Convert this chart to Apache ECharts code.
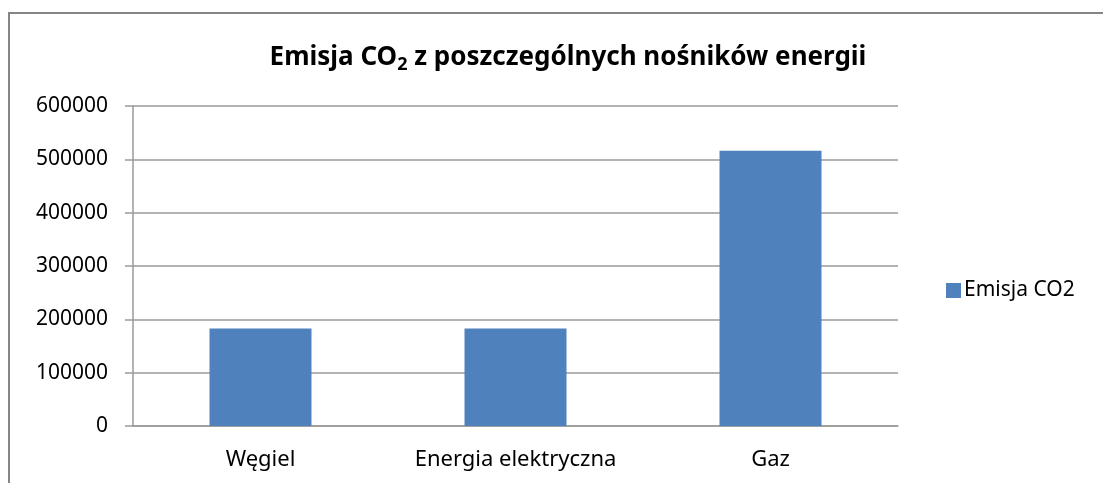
<!DOCTYPE html>
<html>
<head>
<meta charset="utf-8">
<script src="https://cdn.jsdelivr.net/npm/echarts@6/dist/echarts.min.js"></script>
<style>
  html, body { margin: 0; padding: 0; background: #fff; }
  #main { width: 1103px; height: 483px; }
</style>
</head>
<body>
<div id="main"></div>
<script>
// dane z wykresu
var categories = ['Węgiel', 'Energia elektryczna', 'Gaz']
var emisjaCO2 = [183000, 183000, 516000]
var seriesName = 'Emisja CO2'

var chart = echarts.init(document.getElementById('main'))
var font = '"Noto Sans", "DejaVu Sans", sans-serif'

chart.setOption({
    animation: false,
    backgroundColor: '#fff',
    // ramka wykresu
    graphic: [{
        type: 'polyline',
        shape: { points: [[9, 485], [9, 13], [1105, 13]] },
        style: { stroke: '#858585', lineWidth: 2, fill: null }
    }],
    title: {
        text: '{a|Emisja CO}{s|2}{a| z poszczególnych nośników energii}',
        left: 563,
        textAlign: 'center',
        top: 37,
        textStyle: {
            rich: {
                a: { fontFamily: font, fontSize: 26, fontWeight: 'bold', color: '#000' },
                s: { fontFamily: font, fontSize: 18, fontWeight: 'bold', color: '#000', padding: [14, 0, 0, 0] }
            }
        }
    },
    legend: {
        data: [seriesName],
        icon: 'rect',
        left: 941,
        top: 275,
        itemWidth: 15,
        itemHeight: 15,
        itemGap: 6,
        textStyle: { fontFamily: font, fontSize: 21, color: '#000', padding: [0, 0, 0, -2] }
    },
    grid: {
        left: 133,
        right: 205,
        top: 106,
        bottom: 57
    },
    xAxis: {
        type: 'category',
        data: categories,
        axisLine: { lineStyle: { color: '#9a9a9a', width: 1.5 } },
        axisTick: { length: 6, lineStyle: { color: '#9a9a9a', width: 1.5 } },
        axisLabel: { fontFamily: font, fontSize: 22, color: '#000', margin: 23, interval: 0 }
    },
    yAxis: {
        type: 'value',
        min: 0,
        max: 600000,
        interval: 100000,
        axisLine: { show: true, lineStyle: { color: '#9a9a9a', width: 1.5 } },
        axisTick: { show: true, length: 8, lineStyle: { color: '#9a9a9a', width: 1.5 } },
        splitLine: { lineStyle: { color: '#9a9a9a', width: 1.5 } },
        axisLabel: {
            fontFamily: font, fontSize: 21, color: '#000', margin: 25,
            formatter: function (v) { return String(v) }
        }
    },
    series: [{
        name: seriesName,
        type: 'bar',
        data: emisjaCO2,
        barWidth: '40%',
        itemStyle: { color: '#4f81bd' }
    }]
})
</script>
</body>
</html>
